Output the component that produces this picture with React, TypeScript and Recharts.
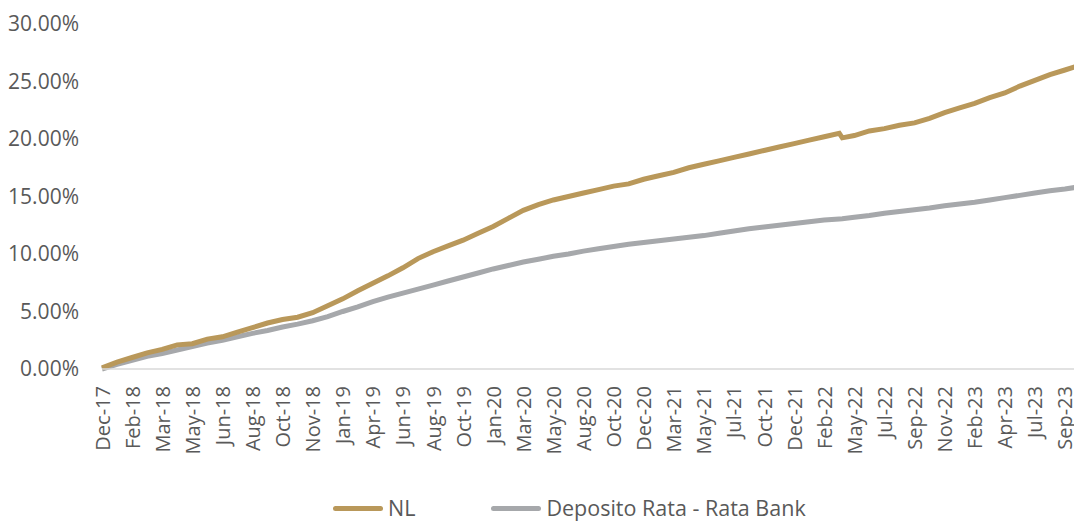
import { Legend, Line, LineChart, XAxis, YAxis } from "recharts";

const tickLabels = [
  "Dec-17", "Feb-18", "Mar-18", "May-18", "Jun-18", "Aug-18", "Oct-18", "Nov-18",
  "Jan-19", "Apr-19", "Jun-19", "Aug-19", "Oct-19", "Jan-20", "Mar-20", "May-20",
  "Aug-20", "Oct-20", "Dec-20", "Mar-21", "May-21", "Jul-21", "Oct-21", "Dec-21",
  "Feb-22", "May-22", "Jul-22", "Sep-22", "Nov-22", "Feb-23", "Apr-23", "Jul-23", "Sep-23",
];

// position along the axis, in label steps (0 = Dec-17)
const steps = [
  0, 0.5, 1, 1.5, 2, 2.5, 3, 3.5, 4, 4.5, 5, 5.5, 6, 6.5, 7, 7.5, 8, 8.5, 9, 9.5,
  10, 10.5, 11, 11.5, 12, 12.5, 13, 13.5, 14, 14.5, 15, 15.5, 16, 16.5, 17, 17.5,
  18, 18.5, 19, 19.5, 20, 20.5, 21, 21.5, 22, 22.5, 23, 23.5, 24, 24.5, 24.6, 25,
  25.5, 26, 26.5, 27, 27.5, 28, 28.5, 29, 29.5, 30, 30.5, 31, 31.5, 32, 32.5,
];

const nlValues = [
  0.1, 0.6, 1.0, 1.4, 1.7, 2.1, 2.2, 2.6, 2.8, 3.2, 3.6, 4.0, 4.3, 4.5, 4.9, 5.5,
  6.1, 6.8, 7.45, 8.1, 8.8, 9.6, 10.2, 10.7, 11.2, 11.8, 12.4, 13.1, 13.8, 14.3,
  14.7, 15.0, 15.3, 15.6, 15.9, 16.1, 16.5, 16.8, 17.1, 17.5, 17.8, 18.1, 18.4,
  18.7, 19.0, 19.3, 19.6, 19.9, 20.2, 20.5, 20.1, 20.3, 20.7, 20.9, 21.2, 21.4,
  21.8, 22.3, 22.7, 23.1, 23.6, 24.0, 24.6, 25.1, 25.6, 26.0, 26.4,
];

const depositoValues = [
  0.0, 0.4, 0.75, 1.1, 1.35, 1.65, 1.95, 2.25, 2.5, 2.8, 3.1, 3.35, 3.65, 3.9, 4.2,
  4.55, 5.0, 5.4, 5.85, 6.25, 6.6, 6.95, 7.3, 7.65, 8.0, 8.35, 8.7, 9.0, 9.3, 9.55,
  9.8, 10.0, 10.25, 10.45, 10.65, 10.85, 11.0, 11.15, 11.3, 11.45, 11.6, 11.8, 12.0,
  12.2, 12.35, 12.5, 12.65, 12.8, 12.95, 13.05, 13.07, 13.2, 13.35, 13.55, 13.7,
  13.85, 14.0, 14.2, 14.35, 14.5, 14.7, 14.9, 15.1, 15.3, 15.5, 15.65, 15.85,
];

const yTicks = [0, 5, 10, 15, 20, 25, 30];

const data = steps.map((s, i) => ({ s, nl: nlValues[i], deposito: depositoValues[i] }));

const GOLD = "#B9985A";
const GREY = "#A6A8AB";
const TEXT = "#595959";
const FONT = "'Open Sans', sans-serif";

function DateTick({ x, y, payload }: any) {
  return (
    <text
      x={x}
      y={y + 15}
      transform={`rotate(-90, ${x}, ${y + 15})`}
      textAnchor="end"
      dominantBaseline="central"
      fill={TEXT}
      fontSize={20}
      fontFamily={FONT}
    >
      {tickLabels[payload.value]}
    </text>
  );
}

function LegendBox() {
  const item = (color: string, label: string) => (
    <div style={{ display: "flex", alignItems: "center" }}>
      <span style={{ width: 50, height: 5, borderRadius: 3, background: color, marginRight: 5 }} />
      <span>{label}</span>
    </div>
  );
  return (
    <div
      style={{
        display: "flex",
        gap: 76,
        paddingLeft: 333,
        fontFamily: FONT,
        fontSize: 21.5,
        color: TEXT,
        lineHeight: "28px",
      }}
    >
      {item(GOLD, "NL")}
      {item(GREY, "Deposito Rata - Rata Bank")}
    </div>
  );
}

export default function App() {
  return (
    <div style={{ marginTop: -8, marginLeft: -8, width: 1082, height: 523, background: "#fff" }}>
      <LineChart width={1082} height={523} data={data} margin={{ top: 24, right: 2, bottom: 0, left: 0 }}>
        <XAxis
          dataKey="s"
          type="number"
          domain={[0, 32.5]}
          ticks={tickLabels.map((_, i) => i)}
          interval={0}
          tick={<DateTick />}
          tickLine={false}
          tickSize={0}
          height={124}
          axisLine={{ stroke: "#D9D9D9", strokeWidth: 1.5 }}
        />
        <YAxis
          domain={[0, 30]}
          ticks={yTicks}
          width={102}
          axisLine={false}
          tickLine={false}
          tickSize={0}
          tickMargin={23}
          tickFormatter={(v: number) => `${v.toFixed(2)}%`}
          tick={{ fill: TEXT, fontSize: 21, fontFamily: FONT }}
        />
        <Legend
          verticalAlign="bottom"
          height={30}
          content={<LegendBox />}
          wrapperStyle={{ left: 0, width: 1082, top: 494 }}
        />
        <Line dataKey="deposito" stroke={GREY} strokeWidth={5} dot={false} isAnimationActive={false} type="linear" />
        <Line dataKey="nl" stroke={GOLD} strokeWidth={5} dot={false} isAnimationActive={false} type="linear" />
      </LineChart>
    </div>
  );
}
